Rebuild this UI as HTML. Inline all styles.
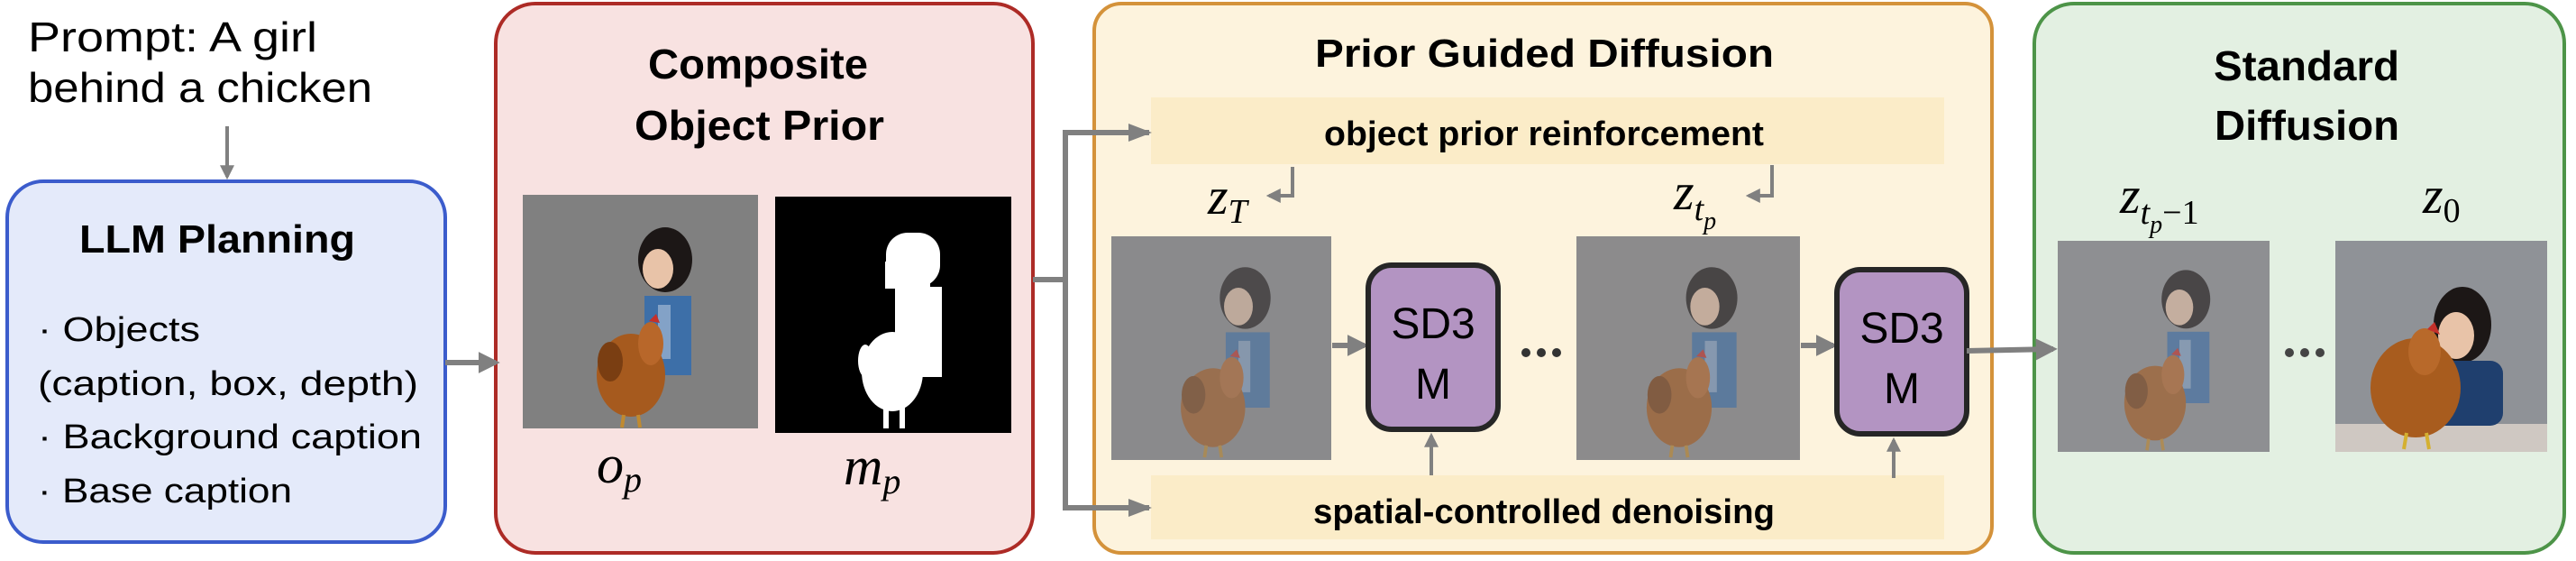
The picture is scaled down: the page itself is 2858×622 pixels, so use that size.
<!DOCTYPE html>
<html><head><meta charset="utf-8"><style>
html,body{margin:0;padding:0;background:#fff;}
svg{display:block;}
.t{font-family:"Liberation Sans",sans-serif;fill:#000;}
.b{font-weight:bold;}
.m{font-family:"Liberation Serif",serif;font-style:italic;fill:#000;}
</style></head><body>
<svg width="2858" height="622" viewBox="0 0 2858 622" xmlns="http://www.w3.org/2000/svg">
<defs>
<marker id="ah" markerWidth="4" markerHeight="4" refX="3.2" refY="2" orient="auto" markerUnits="strokeWidth">
<path d="M0,0 L4,2 L0,4 Z" fill="#808080"/></marker>
<g id="scene">
  <rect x="135" y="112" width="52" height="88" fill="#3d6fa8"/>
  <rect x="150" y="122" width="14" height="60" fill="#c9d6e6" opacity="0.5"/>
  <ellipse cx="158" cy="72" rx="30" ry="36" fill="#1c1716"/>
  <ellipse cx="150" cy="82" rx="17" ry="22" fill="#e8c3a8"/>
  <ellipse cx="120" cy="200" rx="38" ry="46" fill="#a65a1e"/>
  <ellipse cx="142" cy="165" rx="14" ry="24" fill="#b8672a"/>
  <ellipse cx="97" cy="185" rx="14" ry="22" fill="#7a3e12"/>
  <path d="M140 140 l8 -8 l4 10 z" fill="#c4302a"/>
  <path d="M112 244 l-2 14 M128 244 l2 14" stroke="#c08a30" stroke-width="4"/>
</g>
</defs>

<text class="t" x="31" y="57" font-size="46" textLength="321" lengthAdjust="spacingAndGlyphs">Prompt: A girl</text>
<text class="t" x="31" y="113" font-size="46" textLength="382" lengthAdjust="spacingAndGlyphs">behind a chicken</text>
<line x1="252" y1="140" x2="252" y2="196" stroke="#808080" stroke-width="4" marker-end="url(#ah)"/>

<rect x="8" y="201" width="486" height="400" rx="40" fill="#e4eafa" stroke="#3b5ccc" stroke-width="4"/>
<text class="t b" x="88" y="280" font-size="44" textLength="306" lengthAdjust="spacingAndGlyphs">LLM Planning</text>
<text class="t" x="42" y="378" font-size="38" textLength="180" lengthAdjust="spacingAndGlyphs">· Objects</text>
<text class="t" x="42" y="438" font-size="38" textLength="422" lengthAdjust="spacingAndGlyphs">(caption, box, depth)</text>
<text class="t" x="42" y="497" font-size="38" textLength="426" lengthAdjust="spacingAndGlyphs">· Background caption</text>
<text class="t" x="42" y="557" font-size="38" textLength="282" lengthAdjust="spacingAndGlyphs">· Base caption</text>

<rect x="550" y="4" width="596" height="609" rx="44" fill="#f8e2e1" stroke="#ad2b26" stroke-width="4"/>
<line x1="494" y1="402" x2="550" y2="402" stroke="#808080" stroke-width="6" marker-end="url(#ah)"/>
<text class="t b" x="719" y="87" font-size="46" textLength="244" lengthAdjust="spacingAndGlyphs">Composite</text>
<text class="t b" x="704" y="155" font-size="46" textLength="277" lengthAdjust="spacingAndGlyphs">Object Prior</text>
<rect x="580" y="216" width="261" height="259" fill="#808080"/>
<use href="#scene" x="580" y="216"/>
<rect x="860" y="218" width="262" height="262" fill="#000"/>
<g fill="#fff">
<rect x="983" y="258" width="60" height="60" rx="24"/>
<rect x="982" y="290" width="50" height="30"/>
<rect x="993" y="318" width="52" height="100"/>
<ellipse cx="990" cy="412" rx="34" ry="44"/>
<ellipse cx="960" cy="400" rx="8" ry="18"/>
<rect x="980" y="450" width="6" height="25"/><rect x="998" y="450" width="6" height="25"/>
</g>
<text class="m" x="662" y="535" font-size="60">o<tspan font-size="40" dy="10">p</tspan></text>
<text class="m" x="936" y="537" font-size="60">m<tspan font-size="40" dy="10">p</tspan></text>

<line x1="1146" y1="310" x2="1183" y2="310" stroke="#808080" stroke-width="6"/>

<rect x="1214" y="4" width="996" height="609" rx="30" fill="#fdf3dd" stroke="#d4923a" stroke-width="4"/>
<path d="M1275 147 L1182 147 L1182 563 L1275 563" fill="none" stroke="#808080" stroke-width="6"/>
<rect x="1277" y="108" width="880" height="74" fill="#fbecc8"/>
<rect x="1277" y="527" width="880" height="71" fill="#fbecc8"/>
<path d="M1252 137 L1278 147 L1252 157 Z" fill="#808080"/>
<path d="M1252 553 L1278 563 L1252 573 Z" fill="#808080"/>
<text class="t b" x="1459" y="74" font-size="44" textLength="509" lengthAdjust="spacingAndGlyphs">Prior Guided Diffusion</text>
<text class="t b" x="1469" y="161" font-size="38" textLength="488" lengthAdjust="spacingAndGlyphs">object prior reinforcement</text>
<text class="t b" x="1457" y="580" font-size="38" textLength="512" lengthAdjust="spacingAndGlyphs">spatial-controlled denoising</text>
<path d="M1434 185 L1434 217 L1408 217" fill="none" stroke="#808080" stroke-width="4" marker-end="url(#ah)"/>
<path d="M1966 183 L1966 217 L1940 217" fill="none" stroke="#808080" stroke-width="4" marker-end="url(#ah)"/>
<text class="m" x="1340" y="237" font-size="58">z<tspan font-size="38" dy="10">T</tspan></text>
<text class="m" x="1857" y="232" font-size="58">z<tspan font-size="38" dy="12">t</tspan><tspan font-size="28" dy="10">p</tspan></text>

<rect x="1233" y="262" width="244" height="248" fill="#8a8a8c"/>
<g opacity="0.55"><use href="#scene" transform="translate(1233,262) scale(0.94,0.95)"/></g>
<rect x="1749" y="262" width="248" height="248" fill="#8c8b8c"/>
<g opacity="0.6"><use href="#scene" transform="translate(1749,262) scale(0.95,0.95)"/></g>

<line x1="1478" y1="383" x2="1514" y2="383" stroke="#808080" stroke-width="6" marker-end="url(#ah)"/>
<line x1="1998" y1="383" x2="2034" y2="383" stroke="#808080" stroke-width="6" marker-end="url(#ah)"/>
<rect x="1518" y="294" width="144" height="182" rx="26" fill="#b394c2" stroke="#262626" stroke-width="6"/>
<rect x="2038" y="299" width="144" height="182" rx="26" fill="#b394c2" stroke="#262626" stroke-width="6"/>
<text class="t" x="1590" y="375" font-size="48" text-anchor="middle">SD3</text>
<text class="t" x="1590" y="442" font-size="48" text-anchor="middle">M</text>
<text class="t" x="2110" y="380" font-size="48" text-anchor="middle">SD3</text>
<text class="t" x="2110" y="447" font-size="48" text-anchor="middle">M</text>
<line x1="1588" y1="527" x2="1588" y2="483" stroke="#808080" stroke-width="4" marker-end="url(#ah)"/>
<line x1="2101" y1="530" x2="2101" y2="488" stroke="#808080" stroke-width="4" marker-end="url(#ah)"/>
<g fill="#333"><circle cx="1693" cy="391" r="5"/><circle cx="1710" cy="391" r="5"/><circle cx="1727" cy="391" r="5"/></g>

<rect x="2257" y="4" width="588" height="609" rx="44" fill="#e3f0e2" stroke="#4d9448" stroke-width="4"/>
<line x1="2182" y1="389" x2="2278" y2="387" stroke="#808080" stroke-width="6" marker-end="url(#ah)"/>
<rect x="2283" y="267" width="235" height="234" fill="#8e8f92"/>
<g opacity="0.6"><use href="#scene" transform="translate(2283,267) scale(0.9,0.9)"/></g>
<text class="t b" x="2456" y="89" font-size="46" textLength="206" lengthAdjust="spacingAndGlyphs">Standard</text>
<text class="t b" x="2457" y="155" font-size="46" textLength="205" lengthAdjust="spacingAndGlyphs">Diffusion</text>
<text class="m" x="2352" y="236" font-size="58">z<tspan font-size="38" dy="12">t</tspan><tspan font-size="28" dy="10">p</tspan><tspan font-size="38" dy="-10" font-style="normal">−1</tspan></text>
<text class="m" x="2688" y="236" font-size="58">z<tspan font-size="38" dy="10" font-style="normal">0</tspan></text>
<g fill="#444"><circle cx="2540" cy="391" r="5"/><circle cx="2557" cy="391" r="5"/><circle cx="2574" cy="391" r="5"/></g>
<rect x="2591" y="267" width="235" height="234" fill="#8f9297"/>
<rect x="2591" y="470" width="235" height="31" fill="#cfc8c2"/>
<ellipse cx="2732" cy="360" rx="32" ry="42" fill="#1c1716"/>
<ellipse cx="2725" cy="372" rx="20" ry="26" fill="#e8c3a8"/>
<rect x="2692" y="400" width="85" height="72" rx="14" fill="#1f3f6e"/>
<ellipse cx="2680" cy="430" rx="50" ry="55" fill="#a85c1e"/>
<ellipse cx="2690" cy="390" rx="18" ry="26" fill="#b8692a"/>
<path d="M2693 365 l8 -8 l6 14 z" fill="#c4302a"/>
<path d="M2670 480 l-3 18 M2692 480 l3 18" stroke="#d4b030" stroke-width="4"/>
</svg>
</body></html>
